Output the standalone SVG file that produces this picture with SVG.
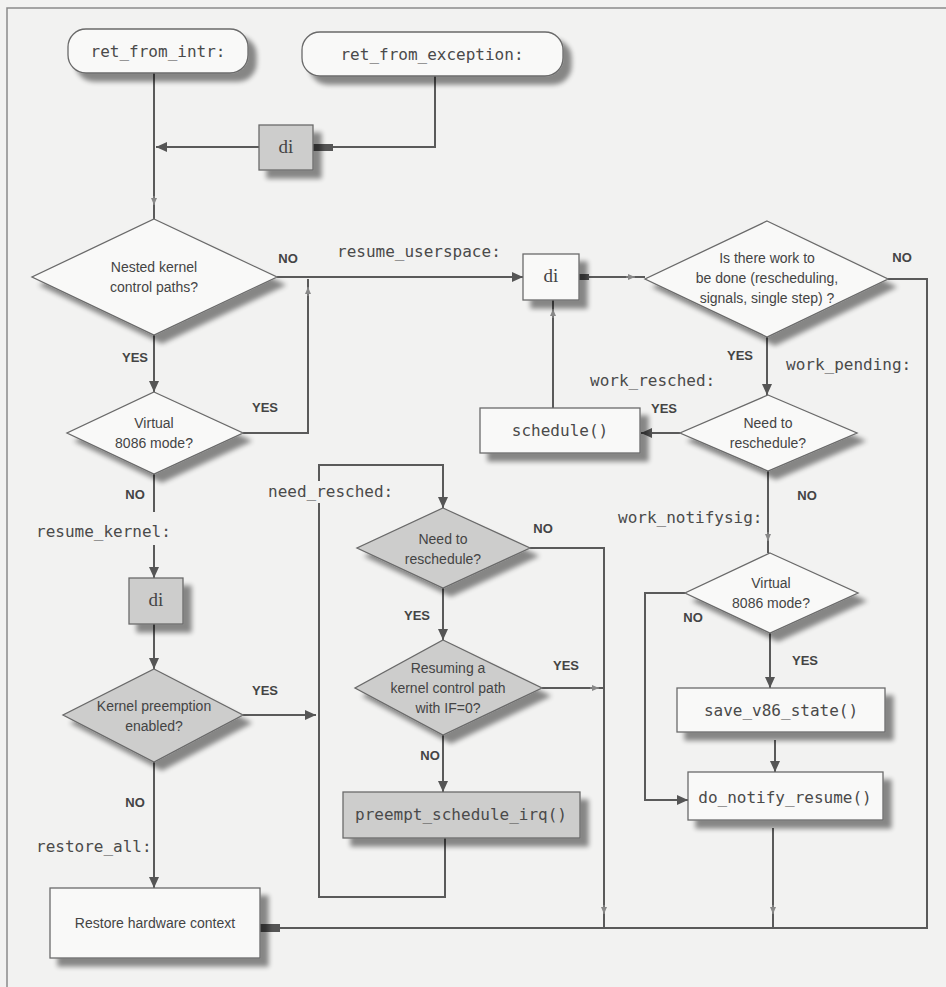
<svg xmlns="http://www.w3.org/2000/svg" width="946" height="987" viewBox="0 0 946 987">
<defs>
<style>
.bg{fill:#f2f2f1}
.frame{fill:none;stroke:#8a8a8a;stroke-width:1.5}
.box{fill:#f9f9f8;stroke:#6a6a6a;stroke-width:1.3}
.gbox{fill:#cdcdcc;stroke:#6a6a6a;stroke-width:1.3}
.ln{fill:none;stroke:#5a5a5a;stroke-width:2}
.tk{fill:none;stroke:#8a8a8a;stroke-width:1.2}
.mono{font-family:"DejaVu Sans Mono","Liberation Mono",monospace;font-size:16px;fill:#4a4a4a}
.q{font-family:"Liberation Sans Narrow","Liberation Sans",Arial,sans-serif;font-size:14px;fill:#444;text-anchor:middle}
.yn{font-family:"Liberation Sans Narrow","Liberation Sans",Arial,sans-serif;font-size:13px;font-weight:bold;fill:#444;text-anchor:middle}
.di{font-family:"Liberation Serif","Times New Roman",serif;font-size:19px;fill:#444;text-anchor:middle}
.stub{fill:#555}
</style>
<filter id="sh" x="-20%" y="-20%" width="150%" height="160%">
<feGaussianBlur in="SourceAlpha" stdDeviation="2.5"/>
<feOffset dx="8" dy="8"/>
<feComponentTransfer><feFuncA type="linear" slope="0.45"/></feComponentTransfer>
<feMerge><feMergeNode/><feMergeNode in="SourceGraphic"/></feMerge>
</filter>
<marker id="arr" markerUnits="userSpaceOnUse" markerWidth="12" markerHeight="10" refX="11" refY="5" orient="auto">
<path d="M0,0 L11,5 L0,10 z" fill="#555"/>
</marker>
<marker id="tick" markerUnits="userSpaceOnUse" markerWidth="8" markerHeight="8" refX="7" refY="4" orient="auto">
<path d="M0,1 L7,4 L0,7 z" fill="#888"/>
</marker>
</defs>
<rect class="bg" x="0" y="0" width="946" height="987"/>
<path class="frame" d="M7,987 V8 H946"/>

<g id="connectors">
<path class="ln" d="M154,73 V219"/>
<path class="tk" d="M154,196 V205" marker-end="url(#tick)"/>
<path class="ln" d="M435,76 V147 H333"/>
<rect class="stub" x="313" y="144" width="20" height="7"/>
<path class="ln" d="M259,147 H156" marker-end="url(#arr)"/>
<path class="ln" d="M277,277 H523" marker-end="url(#arr)"/>
<path class="ln" d="M243,433 H308 V279"/>
<path class="tk" d="M308,296 V287" marker-end="url(#tick)"/>
<path class="ln" d="M154,335 V392" marker-end="url(#arr)"/>
<path class="ln" d="M154,474 V512"/>
<path class="ln" d="M154,545 V578" marker-end="url(#arr)"/>
<path class="ln" d="M154,624 V669" marker-end="url(#arr)"/>
<path class="ln" d="M243,715 H316" marker-end="url(#arr)"/>
<path class="ln" d="M154,762 V888" marker-end="url(#arr)"/>
<path class="ln" d="M445,838 V897 H319 V503"/>
<path class="ln" d="M319,481 V465 H443 V508" marker-end="url(#arr)"/>
<path class="ln" d="M443,588 V640" marker-end="url(#arr)"/>
<path class="ln" d="M443,735 V792" marker-end="url(#arr)"/>
<path class="ln" d="M530,548 H604 V928"/>
<path class="tk" d="M604,905 V914" marker-end="url(#tick)"/>
<path class="ln" d="M542,688 H604"/>
<path class="tk" d="M590,688 H599" marker-end="url(#tick)"/>
<rect class="stub" x="579" y="274" width="10" height="6"/>
<path class="ln" d="M588,277 H645"/>
<path class="tk" d="M626,277 H635" marker-end="url(#tick)"/>
<path class="ln" d="M888,279 H927 V928 H280"/>
<rect class="stub" x="260" y="924" width="20" height="8"/>
<path class="ln" d="M767,337 V395" marker-end="url(#arr)"/>
<path class="ln" d="M680,433 H641" marker-end="url(#arr)"/>
<path class="ln" d="M553,408 V300"/>
<path class="tk" d="M553,318 V309" marker-end="url(#tick)"/>
<path class="ln" d="M768,471 V553"/>
<path class="tk" d="M768,532 V541" marker-end="url(#tick)"/>
<path class="ln" d="M685,593 H645 V800 H688" marker-end="url(#arr)"/>
<path class="ln" d="M770,633 V688" marker-end="url(#arr)"/>
<path class="ln" d="M775,740 V772" marker-end="url(#arr)"/>
<path class="ln" d="M773,828 V928"/>
<path class="tk" d="M773,905 V914" marker-end="url(#tick)"/>
</g>

<g id="ret_from_intr">
<rect class="box" x="68" y="29" width="180" height="44" rx="18" filter="url(#sh)"/>
<text class="mono" x="158" y="57" text-anchor="middle">ret_from_intr:</text>
</g>
<g id="ret_from_exception">
<rect class="box" x="302" y="32" width="261" height="44" rx="18" filter="url(#sh)"/>
<text class="mono" x="432" y="60" text-anchor="middle">ret_from_exception:</text>
</g>
<g id="di_exception">
<rect class="gbox" x="259" y="125" width="54" height="45" filter="url(#sh)"/>
<text class="di" x="286" y="153">di</text>
</g>
<g id="nested_kernel">
<polygon class="box" points="154,219 277,277 154,335 32,277" filter="url(#sh)"/>
<text class="q" x="154" y="272">Nested kernel</text>
<text class="q" x="154" y="292">control paths?</text>
</g>
<g id="virtual_8086_a">
<polygon class="box" points="154,392 243,433 154,474 67,433" filter="url(#sh)"/>
<text class="q" x="154" y="428">Virtual</text>
<text class="q" x="154" y="448">8086 mode?</text>
</g>
<g id="di_kernel">
<rect class="gbox" x="129" y="578" width="54" height="46" filter="url(#sh)"/>
<text class="di" x="156" y="606">di</text>
</g>
<g id="kernel_preemption">
<polygon class="gbox" points="154,669 243,715 154,762 63,715" filter="url(#sh)"/>
<text class="q" x="154" y="711">Kernel preemption</text>
<text class="q" x="154" y="731">enabled?</text>
</g>
<g id="restore_hw">
<rect class="box" x="50" y="888" width="210" height="70" filter="url(#sh)"/>
<text class="q" x="155" y="928">Restore hardware context</text>
</g>
<g id="need_resched_mid">
<polygon class="gbox" points="443,508 530,548 443,588 357,548" filter="url(#sh)"/>
<text class="q" x="443" y="544">Need to</text>
<text class="q" x="443" y="564">reschedule?</text>
</g>
<g id="resuming">
<polygon class="gbox" points="443,640 542,688 443,735 355,688" filter="url(#sh)"/>
<text class="q" x="448" y="673">Resuming a</text>
<text class="q" x="448" y="693">kernel control path</text>
<text class="q" x="448" y="713">with IF=0?</text>
</g>
<g id="preempt_schedule_irq">
<rect class="gbox" x="343" y="792" width="237" height="46" filter="url(#sh)"/>
<text class="mono" x="461" y="820" text-anchor="middle">preempt_schedule_irq()</text>
</g>
<g id="di_user">
<rect class="box" x="523" y="254" width="56" height="46" filter="url(#sh)"/>
<text class="di" x="551" y="282">di</text>
</g>
<g id="work_to_do">
<polygon class="box" points="767,221 888,279 767,337 645,279" filter="url(#sh)"/>
<text class="q" x="767" y="263">Is there work to</text>
<text class="q" x="767" y="283">be done (rescheduling,</text>
<text class="q" x="767" y="303">signals, single step) ?</text>
</g>
<g id="schedule">
<rect class="box" x="480" y="408" width="160" height="45" filter="url(#sh)"/>
<text class="mono" x="560" y="436" text-anchor="middle">schedule()</text>
</g>
<g id="need_resched_right">
<polygon class="box" points="768,395 857,433 768,471 680,433" filter="url(#sh)"/>
<text class="q" x="768" y="428">Need to</text>
<text class="q" x="768" y="448">reschedule?</text>
</g>
<g id="virtual_8086_b">
<polygon class="box" points="770,553 858,593 770,633 685,593" filter="url(#sh)"/>
<text class="q" x="771" y="588">Virtual</text>
<text class="q" x="771" y="608">8086 mode?</text>
</g>
<g id="save_v86_state">
<rect class="box" x="677" y="688" width="208" height="44" filter="url(#sh)"/>
<text class="mono" x="781" y="716" text-anchor="middle">save_v86_state()</text>
</g>
<g id="do_notify_resume">
<rect class="box" x="688" y="772" width="195" height="48" filter="url(#sh)"/>
<text class="mono" x="785" y="803" text-anchor="middle">do_notify_resume()</text>
</g>

<g id="labels">
<text class="mono" x="337" y="257">resume_userspace:</text>
<text class="mono" x="36" y="537">resume_kernel:</text>
<text class="mono" x="268" y="497">need_resched:</text>
<text class="mono" x="36" y="852">restore_all:</text>
<text class="mono" x="590" y="386">work_resched:</text>
<text class="mono" x="786" y="370">work_pending:</text>
<text class="mono" x="618" y="523">work_notifysig:</text>
<text class="yn" x="288" y="263">NO</text>
<text class="yn" x="135" y="362">YES</text>
<text class="yn" x="265" y="412">YES</text>
<text class="yn" x="135" y="499">NO</text>
<text class="yn" x="265" y="695">YES</text>
<text class="yn" x="135" y="807">NO</text>
<text class="yn" x="543" y="533">NO</text>
<text class="yn" x="417" y="620">YES</text>
<text class="yn" x="566" y="670">YES</text>
<text class="yn" x="430" y="760">NO</text>
<text class="yn" x="902" y="262">NO</text>
<text class="yn" x="740" y="360">YES</text>
<text class="yn" x="664" y="413">YES</text>
<text class="yn" x="807" y="500">NO</text>
<text class="yn" x="693" y="622">NO</text>
<text class="yn" x="805" y="665">YES</text>
</g>
</svg>
